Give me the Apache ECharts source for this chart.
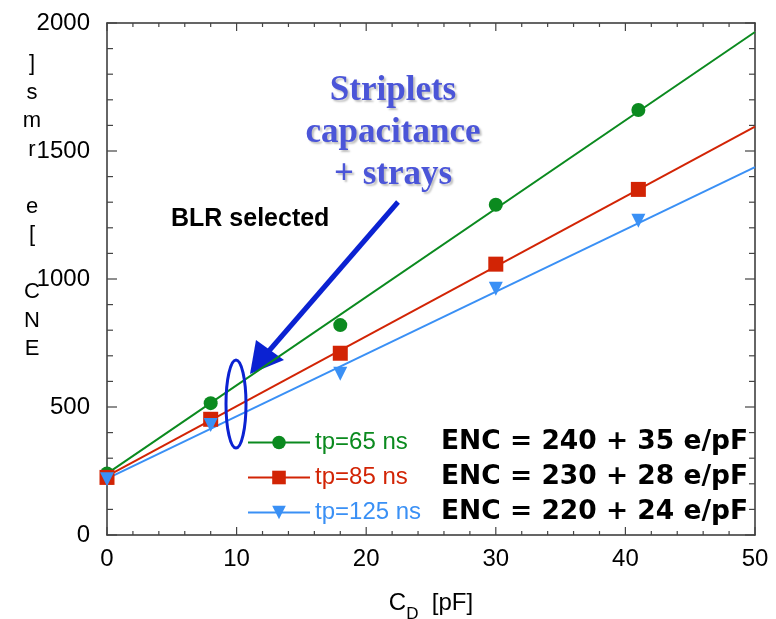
<!DOCTYPE html>
<html>
<head>
<meta charset="utf-8">
<script src="https://cdn.jsdelivr.net/npm/echarts@6/dist/echarts.min.js"></script>
<style>
  html, body { margin: 0; padding: 0; background: #fff; }
  #chart { width: 776px; height: 619px; }
</style>
</head>
<body>
<div id="chart"></div>
<script>
// measured points
const capacitance = [0, 8, 18, 30, 41]
const enc65 = [240, 515, 820, 1290, 1660]
const enc85 = [225, 452, 710, 1058, 1350]
const enc125 = [218, 430, 630, 962, 1228]
// fitted lines (ends)
const fitX = [0, 50]
const fit65 = [240, 1965]
const fit85 = [230, 1595]
const fit125 = [220, 1437]
const seriesNames = ['tp=65 ns', 'tp=85 ns', 'tp=125 ns']
const equations = ['ENC = 240 + 35 e/pF', 'ENC = 230 + 28 e/pF', 'ENC = 220 + 24 e/pF']
const xTicks = [0, 10, 20, 30, 40, 50]
const yTicks = [0, 500, 1000, 1500, 2000]
const xMinorTicks = [2, 4, 6, 8, 12, 14, 16, 18, 22, 24, 26, 28, 32, 34, 36, 38, 42, 44, 46, 48]
const yMinorTicks = [100, 200, 300, 400, 600, 700, 800, 900, 1100, 1200, 1300, 1400, 1600, 1700, 1800, 1900]

const colors = ['#0b8a1f', '#d22405', '#3a90f5']
const symbols = ['circle', 'rect', 'path://M0,0 L10,0 L5,8.7 Z']
const symbolSizes = [14, 15, 14]
const pointSets = [enc65, enc85, enc125]
const fitSets = [fit65, fit85, fit125]

const font = 'Liberation Sans'
const xMin = xTicks[0]
const xMax = xTicks[xTicks.length - 1]
const yMin = yTicks[0]
const yMax = yTicks[yTicks.length - 1]

const pair = (xs, ys) => xs.map((x, i) => [x, ys[i]])

const series = []
seriesNames.forEach((name, i) => {
  series.push({
    name: name,
    type: 'line',
    data: pair(fitX, fitSets[i]),
    showSymbol: false,
    symbol: symbols[i],
    symbolSize: symbolSizes[i],
    lineStyle: { color: colors[i], width: 2 },
    itemStyle: { color: colors[i] },
    z: 2
  })
})
seriesNames.forEach((name, i) => {
  series.push({
    name: name + ' pts',
    type: 'scatter',
    data: pair(capacitance, pointSets[i]),
    symbol: symbols[i],
    symbolSize: symbolSizes[i],
    itemStyle: { color: colors[i], opacity: 1 },
    z: 3 + i
  })
})

// inward ticks on all four sides, placed through the axis scales
// item: [x, y, side (0 = x ticks, 1 = y ticks), length]
const tickData = []
xTicks.forEach(v => tickData.push([v, yMin, 0, 8]))
xMinorTicks.forEach(v => tickData.push([v, yMin, 0, 4]))
yTicks.forEach(v => tickData.push([xMin, v, 1, 10]))
yMinorTicks.forEach(v => tickData.push([xMin, v, 1, 6]))

series.push({
  name: 'ticks',
  type: 'custom',
  silent: true,
  z: 1,
  data: tickData,
  renderItem: (params, api) => {
    const side = api.value(2)
    const len = api.value(3)
    const st = { stroke: '#444', lineWidth: 1.2 }
    if (side === 0) {
      const b = api.coord([api.value(0), yMin])
      const t = api.coord([api.value(0), yMax])
      return {
        type: 'group',
        children: [
          { type: 'line', shape: { x1: b[0], y1: b[1], x2: b[0], y2: b[1] - len }, style: st },
          { type: 'line', shape: { x1: t[0], y1: t[1], x2: t[0], y2: t[1] + len }, style: st }
        ]
      }
    }
    const l = api.coord([xMin, api.value(1)])
    const r = api.coord([xMax, api.value(1)])
    return {
      type: 'group',
      children: [
        { type: 'line', shape: { x1: l[0], y1: l[1], x2: l[0] + len, y2: l[1] }, style: st },
        { type: 'line', shape: { x1: r[0], y1: r[1], x2: r[0] - len, y2: r[1] }, style: st }
      ]
    }
  }
})

function makeAxis (ticks, position, extra) {
  return Object.assign({
    type: 'value',
    min: ticks[0],
    max: ticks[ticks.length - 1],
    interval: ticks[1] - ticks[0],
    position: position,
    axisLine: { show: true, onZero: false, lineStyle: { color: '#333', width: 1.5 } },
    splitLine: { show: false },
    axisTick: { show: false },
    minorTick: { show: false },
    axisLabel: { show: false }
  }, extra || {})
}

const option = {
  animation: false,
  grid: { left: 107, right: 21, top: 23, bottom: 84, outerBoundsMode: 'none' },
  legend: {
    orient: 'vertical',
    left: 242,
    top: 424,
    itemWidth: 62,
    itemHeight: 17,
    itemGap: 8,
    data: seriesNames.map((n, i) => ({ name: n, textStyle: { color: colors[i] } })),
    formatter: name => {
      const i = seriesNames.indexOf(name)
      return '{n|' + name + '}{e|' + equations[i] + '}'
    },
    textStyle: {
      fontFamily: font,
      fontSize: 24,
      rich: {
        n: { fontFamily: font, fontSize: 24, width: 126 },
        e: { fontFamily: 'DejaVu Sans', fontWeight: 'bold', fontSize: 26.5, color: '#000' }
      }
    },
    selectedMode: false
  },
  xAxis: [
    makeAxis(xTicks, 'bottom', {
      axisLabel: { show: true, fontFamily: font, fontSize: 24, color: '#000', margin: 12 },
      name: '{a|C}{s|D}{a|  [pF]}',
      nameLocation: 'middle',
      nameGap: 49,
      nameTextStyle: {
        rich: {
          a: { fontFamily: font, fontSize: 24, color: '#000' },
          s: { fontFamily: font, fontSize: 17, color: '#000', padding: [22, 0, 0, 0] }
        }
      }
    }),
    makeAxis(xTicks, 'top')
  ],
  yAxis: [
    makeAxis(yTicks, 'left', {
      axisLabel: { show: true, fontFamily: font, fontSize: 24, color: '#000', margin: 17, formatter: v => String(v) }
    }),
    makeAxis(yTicks, 'right')
  ],
  graphic: [
    // y axis title, stacked letters as in the source
    {
      type: 'text',
      x: 32,
      y: 50,
      style: {
        text: ['E', 'N', 'C', ' ', '[', 'e', ' ', 'r', 'm', 's', ']'].reverse().join('\n'),
        font: '22px "Liberation Sans"',
        lineHeight: 28.5,
        fill: '#000',
        align: 'center'
      }
    },
    {
      type: 'text',
      x: 393,
      y: 70,
      style: {
        text: 'Striplets\ncapacitance\n+ strays',
        font: 'bold 35px "Liberation Serif"',
        lineHeight: 42,
        fill: '#4b55d8',
        align: 'center',
        textShadowColor: 'rgba(0,0,0,0.25)',
        textShadowOffsetX: 2,
        textShadowOffsetY: 2,
        textShadowBlur: 2
      }
    },
    {
      type: 'text',
      x: 171,
      y: 207,
      style: { text: 'BLR selected', font: 'bold 25px "Liberation Sans"', fill: '#000' }
    },
    {
      type: 'line',
      shape: { x1: 398, y1: 202, x2: 268, y2: 352 },
      style: { stroke: '#0b22d2', lineWidth: 5 }
    },
    {
      type: 'polygon',
      shape: { points: [[250, 374], [256, 340], [284, 360]] },
      style: { fill: '#0b22d2' }
    },
    {
      type: 'ellipse',
      shape: { cx: 236, cy: 404, rx: 10, ry: 44 },
      style: { stroke: '#0b22d2', lineWidth: 3, fill: 'none' },
      z: 10
    }
  ],
  series: series
}

const myChart = echarts.init(document.getElementById('chart'))
myChart.setOption(option)
</script>
</body>
</html>
